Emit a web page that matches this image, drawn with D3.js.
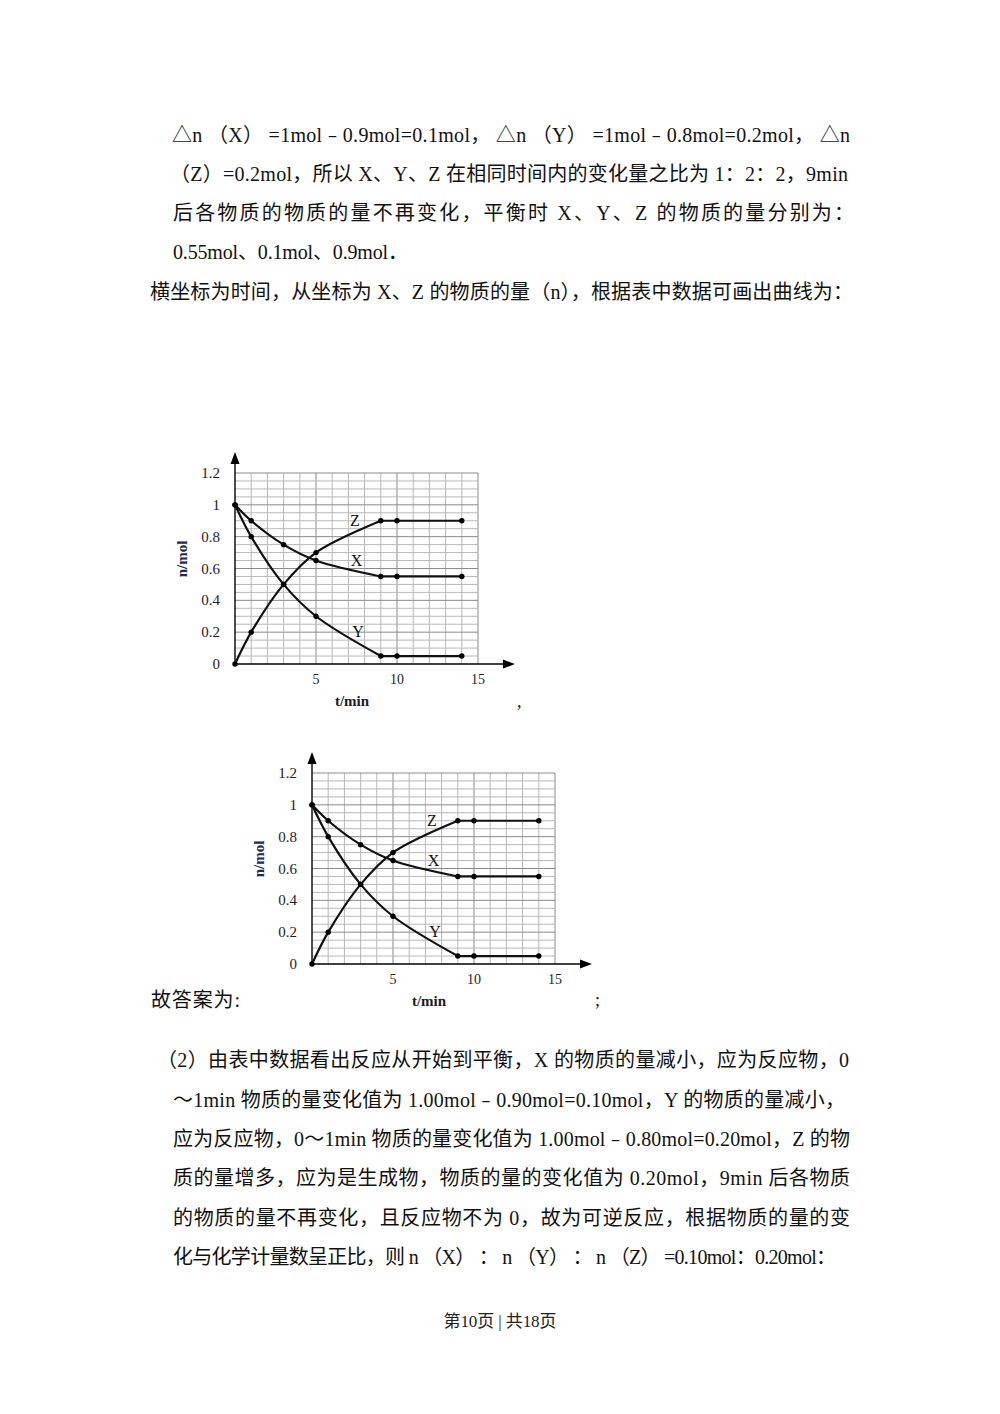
<!DOCTYPE html>
<html><head><meta charset="utf-8">
<script src="https://cdn.jsdelivr.net/npm/d3@7/dist/d3.min.js"></script>
<style>body{margin:0;background:#fff}</style>
</head><body><svg id="page" width="1000" height="1414"></svg>
<script>
// ---- chart data ----
const times   = [0, 1, 3, 5, 9, 10, 14];
const seriesX = [1, 0.9, 0.75, 0.65, 0.55, 0.55, 0.55];
const seriesY = [1, 0.8, 0.5, 0.3, 0.05, 0.05, 0.05];
const seriesZ = [0, 0.2, 0.5, 0.7, 0.9, 0.9, 0.9];
const seriesNames = ["X", "Y", "Z"];
const labelT = [7.5, 7.6, 7.4];
const labelN = [0.65, 0.2, 0.9];
const yTicks = [0, 0.2, 0.4, 0.6, 0.8, 1, 1.2];
const yTickLabels = ["0", "0.2", "0.4", "0.6", "0.8", "1", "1.2"];
const xTicks = [5, 10, 15];
const xTickLabels = ["5", "10", "15"];
const xLabel = "t/min";
const yLabel = "n/mol";
const equilibriumTime = 9;

// ---- page text ----
const textLines = [
  "△n （X） =1mol﹣0.9mol=0.1mol， △n （Y） =1mol﹣0.8mol=0.2mol， △n",
  "（Z）=0.2mol，所以 X、Y、Z 在相同时间内的变化量之比为 1：2：2，9min",
  "后各物质的物质的量不再变化，平衡时 X、Y、Z 的物质的量分别为：",
  "0.55mol、0.1mol、0.9mol．",
  "横坐标为时间，从坐标为 X、Z 的物质的量（n），根据表中数据可画出曲线为：",
  "故答案为:",
  "（2）由表中数据看出反应从开始到平衡，X 的物质的量减小，应为反应物，0",
  "～1min 物质的量变化值为 1.00mol﹣0.90mol=0.10mol，Y 的物质的量减小，",
  "应为反应物，0～1min 物质的量变化值为 1.00mol﹣0.80mol=0.20mol，Z 的物",
  "质的量增多，应为是生成物，物质的量的变化值为 0.20mol，9min 后各物质",
  "的物质的量不再变化，且反应物不为 0，故为可逆反应，根据物质的量的变",
  "化与化学计量数呈正比，则 n （X） ： n （Y） ： n （Z） =0.10mol：0.20mol："
];
const lineLayout = [
  [172, 850, 135], [170, 848, 174], [173, 854, 213], [173, 408, 252], [150, 853, 292],
  [151, 240, 1000], [157, 849, 1060], [173, 845, 1100], [173, 850, 1139],
  [173, 850, 1178], [173, 850, 1218], [173, 836, 1257]
];

const svg = d3.select("#page");
svg.append("rect").attr("width", 1000).attr("height", 1414).attr("fill", "#fff");
const bodyFont = "'Liberation Serif','Noto Sans CJK SC',serif";

textLines.forEach((t, i) => {
  const [x1, x2, y] = lineLayout[i];
  svg.append("text").attr("x", x1).attr("y", y + 7)
    .attr("font-family", bodyFont).attr("font-size", 20).attr("fill", "#111")
    .attr("textLength", x2 - x1).attr("lengthAdjust", "spacing")
    .attr("xml:space", "preserve").style("white-space", "pre")
    .text(t);
});
svg.append("text").attr("x", 517).attr("y", 707).attr("font-family", bodyFont)
  .attr("font-size", 18).attr("fill", "#111").text(",");
svg.append("text").attr("x", 595).attr("y", 1006).attr("font-family", bodyFont)
  .attr("font-size", 18).attr("fill", "#111").text(";");
svg.append("text").attr("x", 500).attr("y", 1327).attr("text-anchor", "middle")
  .attr("font-family", bodyFont).attr("font-size", 17).attr("fill", "#222")
  .attr("textLength", 113).attr("lengthAdjust", "spacing").text("第10页 | 共18页");

function drawChart(ox, oy) {
  const W = 243, H = 191;
  const g = svg.append("g").attr("transform", `translate(${ox},${oy - H})`);
  const x = d3.scaleLinear().domain([0, 15]).range([0, W]);
  const y = d3.scaleLinear().domain([0, 1.2]).range([H, 0]);
  // grid
  const vGrid = d3.range(1, 16);
  const hGrid = d3.range(1, 25).map(k => k * 0.05);
  g.selectAll(".vg").data(vGrid).enter().append("line")
    .attr("x1", d => x(d)).attr("x2", d => x(d)).attr("y1", y(0)).attr("y2", y(1.2))
    .attr("stroke", d => d % 5 === 0 ? "#8a8a8a" : "#b8b8b8").attr("stroke-width", 1);
  g.selectAll(".hg").data(hGrid).enter().append("line")
    .attr("x1", x(0)).attr("x2", x(15)).attr("y1", d => y(d)).attr("y2", d => y(d))
    .attr("stroke", (d, i) => (i + 1) % 4 === 0 ? "#8a8a8a" : "#b8b8b8").attr("stroke-width", 1);
  // axes
  g.append("line").attr("x1", x(0)).attr("x2", x(0)).attr("y1", y(0)).attr("y2", -12)
    .attr("stroke", "#000").attr("stroke-width", 1.4);
  g.append("path").attr("d", "M0,-21 L-4.5,-9 L4.5,-9 Z").attr("fill", "#000");
  g.append("line").attr("x1", x(0)).attr("x2", 270).attr("y1", y(0)).attr("y2", y(0))
    .attr("stroke", "#000").attr("stroke-width", 1.4);
  g.append("path").attr("d", `M280,${y(0)} L268,${y(0) - 4.5} L268,${y(0) + 4.5} Z`).attr("fill", "#000");
  // tick labels
  const tickFont = "'Liberation Serif',serif";
  g.selectAll(".yt").data(yTicks).enter().append("text")
    .attr("x", -15).attr("y", d => y(d) + 5).attr("text-anchor", "end")
    .attr("font-family", tickFont).attr("font-size", 15).attr("fill", "#1c1c2a")
    .text((d, i) => yTickLabels[i]);
  g.selectAll(".xt").data(xTicks).enter().append("text")
    .attr("x", d => x(d)).attr("y", y(0) + 20).attr("text-anchor", "middle")
    .attr("font-family", tickFont).attr("font-size", 14).attr("fill", "#1c1c2a")
    .text((d, i) => xTickLabels[i]);
  g.append("text").attr("x", 117).attr("y", y(0) + 42).attr("text-anchor", "middle")
    .attr("font-family", tickFont).attr("font-size", 15).attr("font-weight", "bold")
    .attr("fill", "#1a1a2a").text(xLabel);
  g.append("text").attr("transform", `translate(-48,${y(0.66)}) rotate(-90)`)
    .attr("text-anchor", "middle").attr("font-family", tickFont).attr("font-size", 15)
    .attr("font-weight", "bold").attr("fill", "#1e2a50").text(yLabel);
  // series: smooth curve until equilibrium, straight afterwards
  const allSeries = [seriesX, seriesY, seriesZ];
  const curve = d3.line().x(d => x(d[0])).y(d => y(d[1])).curve(d3.curveCatmullRom.alpha(0.5));
  const straight = d3.line().x(d => x(d[0])).y(d => y(d[1]));
  allSeries.forEach((vals, si) => {
    const pts = times.map((t, i) => [t, vals[i]]);
    const before = pts.filter(p => p[0] <= equilibriumTime);
    const after = pts.filter(p => p[0] >= equilibriumTime);
    g.append("path").attr("d", curve(before)).attr("fill", "none")
      .attr("stroke", "#111").attr("stroke-width", 2.2);
    g.append("path").attr("d", straight(after)).attr("fill", "none")
      .attr("stroke", "#111").attr("stroke-width", 2.2);
    g.selectAll(null).data(pts).enter().append("circle")
      .attr("cx", d => x(d[0])).attr("cy", d => y(d[1])).attr("r", 2.7).attr("fill", "#000");
    g.append("text").attr("x", x(labelT[si])).attr("y", y(labelN[si]) + 5)
      .attr("text-anchor", "middle").attr("font-family", tickFont).attr("font-size", 16)
      .attr("fill", "#111").text(seriesNames[si]);
  });
}
drawChart(235, 664);
drawChart(312, 964);
</script></body></html>
